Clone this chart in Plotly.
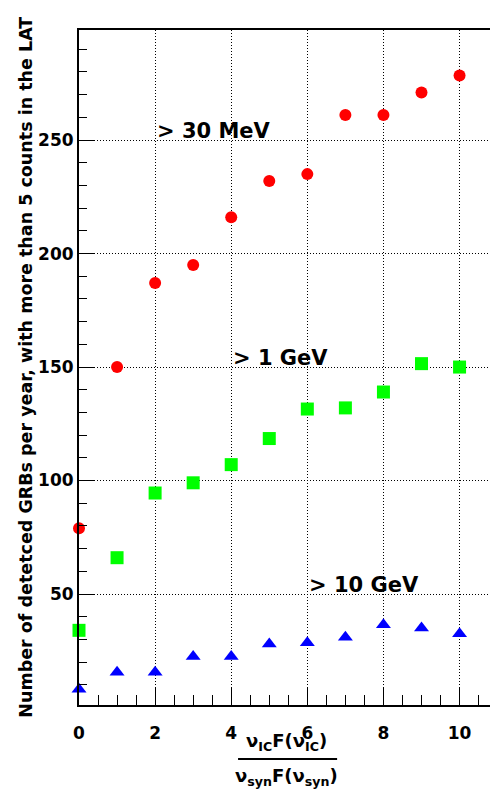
import plotly.graph_objects as go

x_vals = [0, 1, 2, 3, 4, 5, 6, 7, 8, 9, 10]
n_30mev = [79, 150, 187, 195, 216, 232, 235, 261, 261, 271, 278.5]
n_1gev = [34, 66, 94.5, 99, 107, 118.5, 131.5, 132, 139, 151.5, 150]
n_10gev = [8, 15.5, 15.5, 22.5, 22.5, 28, 28.5, 31, 36.5, 35, 32.5]

labels = ["> 30 MeV", "> 1 GeV", "> 10 GeV"]
label_pos = [(2.0, 254), (4.0, 154), (6.0, 54)]

FONT = "DejaVu Sans"

fig = go.Figure()
fig.add_trace(go.Scatter(x=x_vals, y=n_30mev, mode="markers", cliponaxis=False,
                         marker=dict(symbol="circle", size=12, color="#ff0000"),
                         showlegend=False))
fig.add_trace(go.Scatter(x=x_vals, y=n_1gev, mode="markers", cliponaxis=False,
                         marker=dict(symbol="square", size=13, color="#00ff00"),
                         showlegend=False))
fig.add_trace(go.Scatter(x=x_vals, y=n_10gev, mode="markers", cliponaxis=False,
                         marker=dict(symbol="triangle-up", size=13, color="#0000ff"),
                         showlegend=False))

for txt, (lx, ly) in zip(labels, label_pos):
    fig.add_annotation(x=lx, y=ly, xref="x", yref="y", text=txt, showarrow=False,
                       xanchor="left", yanchor="middle",
                       font=dict(family=FONT, size=21, color="black", weight="bold"))

# y-axis title
fig.add_annotation(x=-0.131, y=0.5, xref="paper", yref="paper",
                   text="Number of detetced GRBs per year, with more than 5 counts in the LAT",
                   textangle=-90, showarrow=False, xanchor="center", yanchor="middle",
                   font=dict(family=FONT, size=17.5, color="black", weight="bold"))

# x-axis title as a fraction
fig.add_annotation(x=0.505, y=-0.055, xref="paper", yref="paper",
                   text="ν<sub>IC</sub>F(ν<sub>IC</sub>)", showarrow=False,
                   xanchor="center", yanchor="middle",
                   font=dict(family=FONT, size=18, color="black", weight="bold"))
fig.add_annotation(x=0.505, y=-0.107, xref="paper", yref="paper",
                   text="ν<sub>syn</sub>F(ν<sub>syn</sub>)", showarrow=False,
                   xanchor="center", yanchor="middle",
                   font=dict(family=FONT, size=18, color="black", weight="bold"))
fig.add_shape(type="line", xref="paper", yref="paper",
              x0=0.387, x1=0.628, y0=-0.08, y1=-0.08,
              line=dict(color="black", width=2))

fig.update_xaxes(range=[0, 10.8], tickmode="array", tickvals=[0, 2, 4, 6, 8, 10],
                 ticks="inside", ticklen=18, tickwidth=1, tickcolor="black",
                 showline=True, linecolor="black", linewidth=2, mirror=True,
                 showgrid=True, gridcolor="black", griddash="1px,2px", gridwidth=1,
                 zeroline=False,
                 minor=dict(dtick=0.5, tick0=0, ticks="inside", ticklen=10,
                            tickcolor="black", tickwidth=1, showgrid=False),
                 tickfont=dict(family=FONT, size=17, color="black", weight="bold"),
                 ticklabelstandoff=12)
fig.update_yaxes(range=[1.1, 298.5], tickmode="array", tickvals=[50, 100, 150, 200, 250],
                 ticks="inside", ticklen=16, tickwidth=1, tickcolor="black",
                 showline=True, linecolor="black", linewidth=2, mirror=False,
                 showgrid=True, gridcolor="black", griddash="1px,2px", gridwidth=1,
                 zeroline=False,
                 minor=dict(dtick=10, tick0=0, ticks="inside", ticklen=8,
                            tickcolor="black", tickwidth=1, showgrid=False),
                 tickfont=dict(family=FONT, size=17, color="black", weight="bold"),
                 ticklabelstandoff=0)

fig.update_layout(width=490, height=790, margin=dict(l=79, r=0, t=30, b=85),
                  paper_bgcolor="white", plot_bgcolor="white")

fig.write_html("out.html")
